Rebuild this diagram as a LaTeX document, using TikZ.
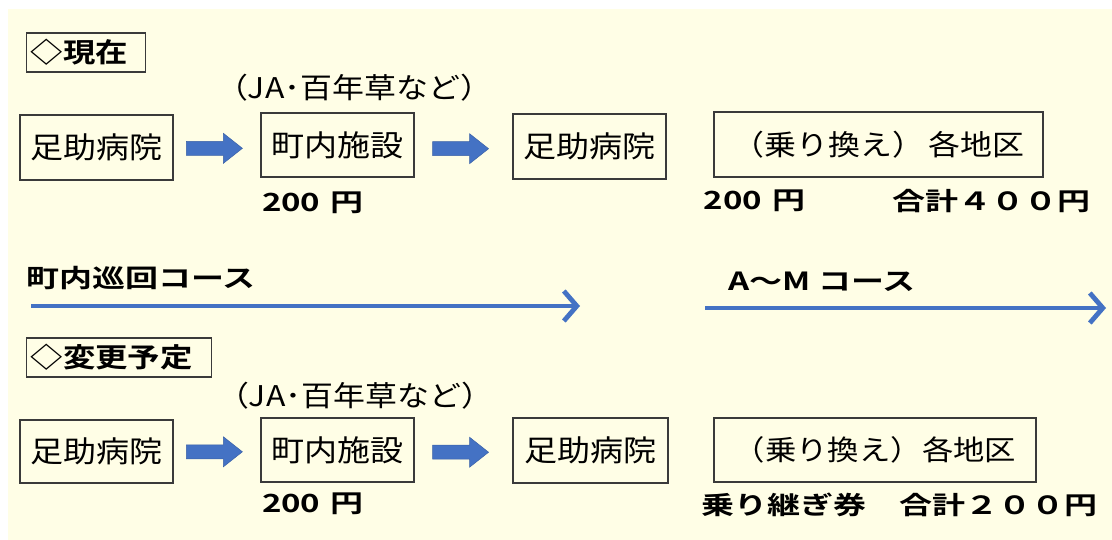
\documentclass[tikz,border=0pt]{standalone}
\usepackage{fontspec}
\setmainfont{Noto Sans CJK JP}[FakeStretch=1.12]
\newfontfamily\jptitle{Noto Sans CJK JP Bold}[FakeStretch=1.2]
\newfontfamily\jpwide{Noto Sans CJK JP Bold}[FakeStretch=1.32]
\usetikzlibrary{arrows.meta,calc}
\definecolor{bg}{HTML}{FFFEE6}
\definecolor{arrblue}{HTML}{4472C4}
\definecolor{boxline}{HTML}{3A3A3A}
\begin{document}
\begin{tikzpicture}[x=1pt,y=-1pt,
  box/.style={draw=boxline, line width=1.3pt, fill=bg, inner sep=0pt,
    font=\fontsize{29.5}{32}\selectfont},
  widebox/.style={box, font=\fontsize{28.5}{32}\selectfont},
  titlebox/.style={draw=boxline, line width=1.3pt, fill=bg, inner xsep=4pt, inner ysep=0pt,
    minimum height=39pt, align=left, anchor=west, font=\jptitle\fontsize{27}{30}\selectfont},
  note/.style={inner sep=0pt, font=\fontsize{28.5}{30}\selectfont},
  price/.style={inner sep=0pt, font=\jpwide\fontsize{25}{30}\selectfont},
  course/.style={inner sep=0pt, font=\jpwide\fontsize{25}{30}\selectfont},
  blockarr/.style={fill=arrblue, draw=arrblue!85!black, line width=0.5pt},
  linearr/.style={draw=arrblue, line width=4.8pt,
    -{Straight Barb[length=13pt, width=30pt, line width=4.8pt]}}
]
\fill[white] (0,0) rectangle (1112,540);
\fill[bg] (8,9) rectangle (1112,540);
\useasboundingbox (0,0) rectangle (1112,540);

% ---------- current ----------
\node[titlebox, text width=111pt] (t1) at (26,52.5) {◇現在};
\node[note] (n1) at (354,88) {（JA･百年草など）};

\node[box, minimum width=153pt, minimum height=65pt] (a1) at (96.5,147.5) {足助病院};
\node[box, minimum width=153pt, minimum height=64pt] (a2) at (337.5,145) {町内施設};
\node[box, minimum width=153pt, minimum height=65pt] (a3) at (589.5,146.5) {足助病院};
\node[widebox, minimum width=329pt, minimum height=65pt] (a4) at (878.5,144.5) {（乗り換え）\hspace{4pt}各地区};

\coordinate (m1) at ($(a1.east)!0.47!(a2.west)+(0,2)$);
\coordinate (m2) at ($(a2.east)!0.47!(a3.west)+(0,3)$);
\foreach \m in {m1,m2}{
  \begin{scope}[shift={(\m)}]
    \path[blockarr] (-28,-7) -- (9,-7) -- (9,-15) -- (28,0) -- (9,15) -- (9,7) -- (-28,7) -- cycle;
  \end{scope}
}

\node[price] (p1) at (313,203) {200\hspace{3pt} 円};
\node[price] (p2) at (754.5,201) {200\hspace{3pt} 円};
\node[price] (p3) at (991,201) {合計４００円};

% ---------- courses ----------
\node[course, anchor=west] (k1) at (26,278) {町内巡回コース};
\coordinate (l1s) at (31,306);
\coordinate (l1e) at (580,306);
\draw[linearr] (l1s) -- (l1e);

\node[course] (k2) at (822,282) {A～M コース};
\coordinate (l2s) at (705,308);
\coordinate (l2e) at (1106,308);
\draw[linearr] (l2s) -- (l2e);

% ---------- planned ----------
\node[titlebox, text width=177pt] (t2) at (26,357.5) {◇変更予定};
\node[note] (n2) at (355,396) {（JA･百年草など）};

\node[box, minimum width=153pt, minimum height=63pt] (b1) at (96.5,451.5) {足助病院};
\node[box, minimum width=153pt, minimum height=64pt] (b2) at (337.5,450) {町内施設};
\node[box, minimum width=155pt, minimum height=65pt] (b3) at (590.5,450.5) {足助病院};
\node[box, font=\fontsize{28}{32}\selectfont, minimum width=322pt, minimum height=64pt] (b4) at (875,450) {（乗り換え）各地区};

\coordinate (m3) at ($(b1.east)!0.47!(b2.west)+(0,1)$);
\coordinate (m4) at ($(b2.east)!0.47!(b3.west)+(0,2)$);
\foreach \m in {m3,m4}{
  \begin{scope}[shift={(\m)}]
    \path[blockarr] (-28,-7) -- (9,-7) -- (9,-15) -- (28,0) -- (9,15) -- (9,7) -- (-28,7) -- cycle;
  \end{scope}
}

\node[price] (q1) at (313,504) {200\hspace{3pt} 円};
\node[price] (q2) at (899.5,505) {乗り継ぎ券　合計２００円};
\end{tikzpicture}
\end{document}
